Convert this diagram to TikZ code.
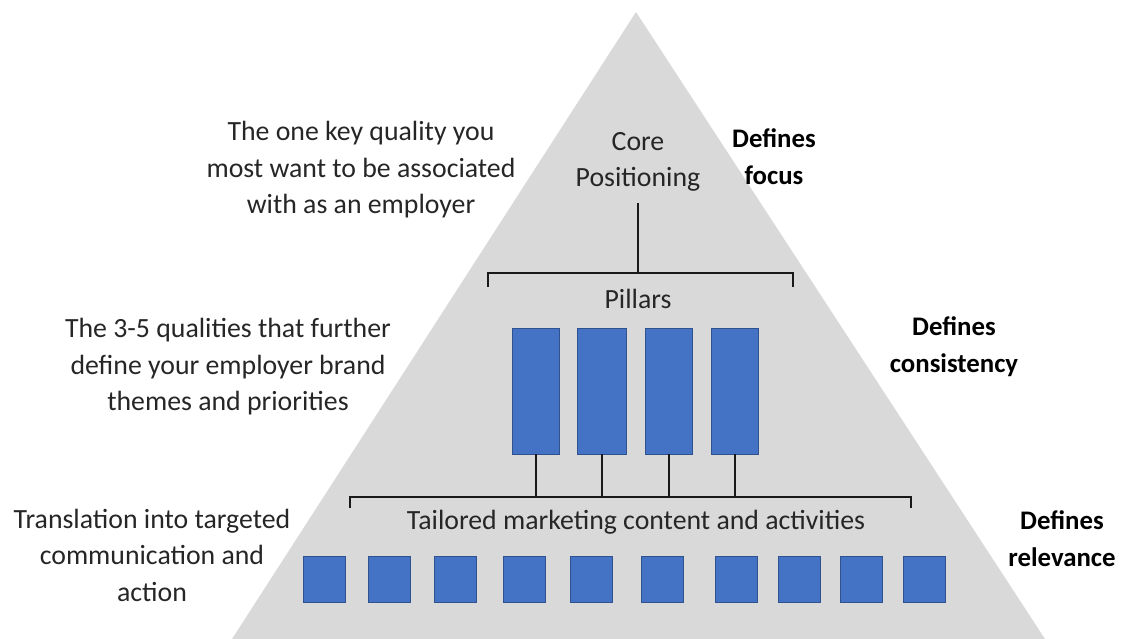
\documentclass[tikz,border=0pt]{standalone}
\usepackage{fontspec}
\setmainfont{Carlito}
\begin{document}
\begin{tikzpicture}[x=1pt,y=-1pt,
  txt/.style={align=center,text=black!85,font=\fontsize{27.8}{36.5}\selectfont,inner sep=0pt},
  bold/.style={align=center,text=black,font=\fontsize{26.8}{37}\selectfont\bfseries,inner sep=0pt},
  pillar/.style={draw=boxedge,fill=pillarblue,line width=0.8pt,minimum width=47pt,minimum height=126pt,inner sep=0pt},
  sq/.style={draw=boxedge,fill=pillarblue,line width=0.8pt,minimum width=42pt,minimum height=46pt,inner sep=0pt},
  brk/.style={draw=black!90,line width=1.3pt}]
\definecolor{pillarblue}{HTML}{4472C4}
\definecolor{boxedge}{HTML}{2F528F}
\definecolor{trigray}{HTML}{D9D9D9}
\useasboundingbox (0,0) rectangle (1135,639);
\fill[trigray] (636,12) -- (1045,639) -- (232,639) -- cycle;
% texts
\node[txt] (t1) at (361,170) {The one key quality you\\most want to be associated\\with as an employer};
\node[txt] (t2) at (228,367) {The 3-5 qualities that further\\define your employer brand\\themes and priorities};
\node[txt] (t3) at (152,555) {Translation into targeted\\communication and\\action};
\node[txt] (core) at (638,162) {Core\\Positioning};
\node[bold] (d1) at (774,157) {Defines\\focus};
\node[bold] (d2) at (954,347) {Defines\\consistency};
\node[bold] (d3) at (1062,539) {Defines\\relevance};
\node[txt] (pl) at (638,299) {Pillars};
\node[txt] (tm) at (636,522) {Tailored marketing content and activities};
% pillars
\node[pillar] (p1) at (536,391) {};
\node[pillar,minimum width=49pt] (p2) at (602,391) {};
\node[pillar] (p3) at (669,391) {};
\node[pillar] (p4) at (735,391) {};
% squares
\foreach \i/\x in {1/324,2/389.5,3/455.5,4/524,5/591,6/662.5,7/736.5,8/799.5,9/861,10/924.5}
  \node[sq] (s\i) at (\x,579) {};
% top bracket
\coordinate (tbl) at (488,273);
\coordinate (tbr) at (793,273);
\draw[brk] ([yshift=-14pt]tbl) -- (tbl) -- (tbr) -- ([yshift=-14pt]tbr);
\draw[brk] (core.south |- 0,203) -- (core.south |- tbl);
% bottom bracket
\coordinate (bbl) at (350,497);
\coordinate (bbr) at (911,497);
\draw[brk] ([yshift=-11pt]bbl) -- (bbl) -- (bbr) -- ([yshift=-11pt]bbr);
\foreach \p in {p1,p2,p3,p4}
  \draw[brk] (\p.south) -- (\p.south |- bbl);
\end{tikzpicture}
\end{document}
